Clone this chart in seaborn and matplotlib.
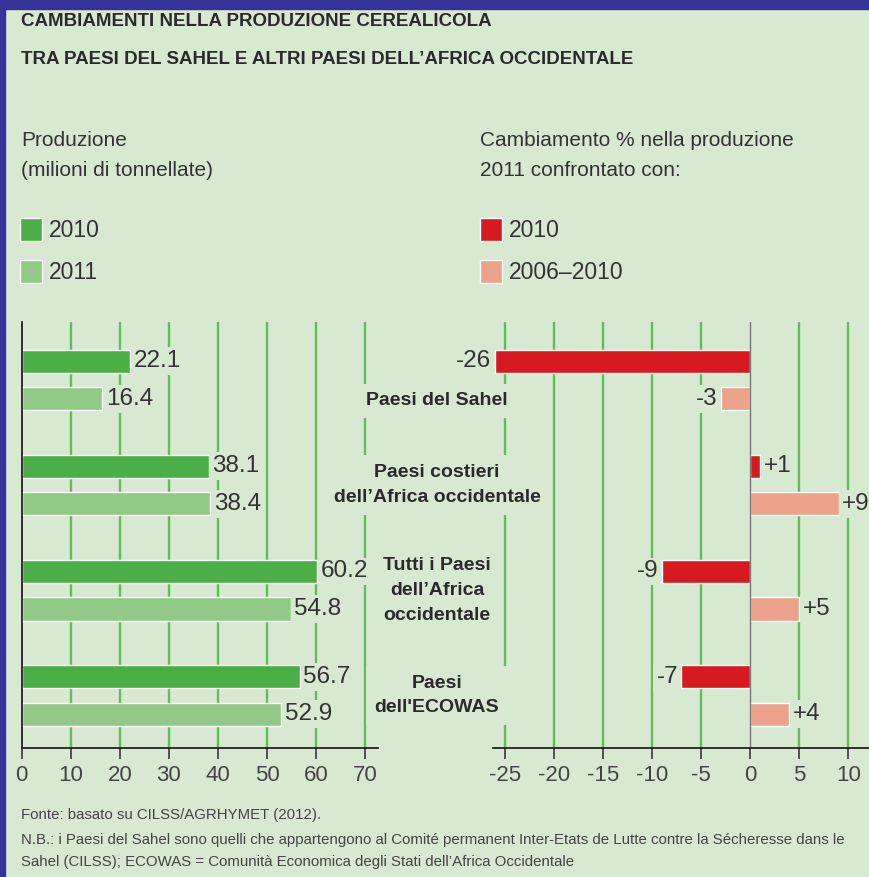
import matplotlib
matplotlib.use("Agg")
import matplotlib.pyplot as plt
import seaborn as sns
import pandas as pd
from matplotlib.patches import Rectangle
from matplotlib import transforms

# ---------------- data ----------------
category_keys = ["sahel", "costieri", "tutti", "ecowas"]
category_labels = ["Paesi del Sahel",
                   "Paesi costieri\ndell\u2019Africa occidentale",
                   "Tutti i Paesi\ndell\u2019Africa\noccidentale",
                   "Paesi\ndell'ECOWAS"]
production_series = ["2010", "2011"]
production_2010 = [22.1, 38.1, 60.2, 56.7]
production_2011 = [16.4, 38.4, 54.8, 52.9]
change_series = ["2010", "2006\u20132010"]
change_vs_2010 = [-26, 1, -9, -7]
change_vs_2006_2010 = [-3, 9, 5, 4]
production_ticks = [0, 10, 20, 30, 40, 50, 60, 70]
change_ticks = [-25, -20, -15, -10, -5, 0, 5, 10]

# ---------------- style ----------------
BG = "#d8e9d1"
BORDER = "#35339a"
DARK_GREEN = "#4cae46"
LIGHT_GREEN = "#93c987"
RED = "#d71a21"
SALMON = "#eca28b"
GRID = "#63bc5b"
TEXT = "#333333"

sns.set_theme(style="white")
plt.rcParams["font.family"] = ["Liberation Sans", "DejaVu Sans"]
plt.rcParams["axes.unicode_minus"] = False

W, H = 869, 877
fig = plt.figure(figsize=(W / 100, H / 100), dpi=100, facecolor=BG)

def fx(px):
    return px / W

def fy(px):
    return 1 - px / H

ax1 = fig.add_axes([fx(21.7), fy(748), fx(378 - 21.7), 426 / H])
ax2 = fig.add_axes([fx(493), fy(748), fx(869 - 493), 426 / H])

df_prod = pd.DataFrame({
    "cat": category_keys * 2,
    "value": production_2010 + production_2011,
    "series": [production_series[0]] * 4 + [production_series[1]] * 4,
})
df_change = pd.DataFrame({
    "cat": category_keys * 2,
    "value": change_vs_2010 + change_vs_2006_2010,
    "series": [change_series[0]] * 4 + [change_series[1]] * 4,
})

sns.barplot(data=df_prod, x="value", y="cat", hue="series", orient="h",
            palette=[DARK_GREEN, LIGHT_GREEN], saturation=1, errorbar=None,
            width=0.714, gap=0.387, ax=ax1)
sns.barplot(data=df_change, x="value", y="cat", hue="series", orient="h",
            palette=[RED, SALMON], saturation=1, errorbar=None,
            width=0.714, gap=0.387, ax=ax2)

h1, l1 = ax1.get_legend_handles_labels()
h2, l2 = ax2.get_legend_handles_labels()
ax1.get_legend().remove()
ax2.get_legend().remove()

for ax, ticks, xlim in [(ax1, production_ticks, (0, 72.6)),
                        (ax2, change_ticks, (-26.2, 12.1))]:
    ax.set_facecolor(BG)
    ax.set_xlim(*xlim)
    ax.set_ylim(3.5, -0.55)
    ax.set_xticks(ticks)
    ax.set_xlabel("")
    ax.set_ylabel("")
    ax.set_axisbelow(True)
    ax.grid(axis="x", color=GRID, linewidth=1.7)
    ax.grid(axis="y", visible=False)
    for t, gl in zip(ticks, ax.get_xgridlines()):
        if t == 0:
            gl.set_visible(False)
    ax.tick_params(axis="y", left=False, labelleft=False)
    ax.tick_params(axis="x", bottom=True, direction="out", length=8, width=1.3,
                   color="#444444", labelsize=16, labelcolor="#444444", pad=4)
    for s in ["top", "right", "left"]:
        ax.spines[s].set_visible(False)
    ax.spines["bottom"].set_color("#222222")
    ax.spines["bottom"].set_linewidth(1.3)

ax1.spines["left"].set_visible(True)
ax1.spines["left"].set_color("#222222")
ax1.spines["left"].set_linewidth(1.3)
ax2.axvline(0, color="#777777", linewidth=1.0, zorder=2.5)

label_box = dict(boxstyle="square,pad=0.12", fc=BG, ec="none")
for cont in ax1.containers:
    vals = cont.datavalues
    ax1.bar_label(cont, labels=[f"{v:.1f}" for v in vals], padding=2.5,
                  fontsize=17.5, color=TEXT, bbox=label_box)
for cont in ax2.containers:
    vals = cont.datavalues
    ax2.bar_label(cont, labels=[f"{int(v):+d}" for v in vals], padding=2.5,
                  fontsize=17.5, color=TEXT, bbox=label_box)

# category labels in the gap between the panels
blend = transforms.blended_transform_factory(fig.transFigure, ax2.transData)
label_offsets = [0.2, 0.0, 0.0, 0.0]
for i, (lab, off) in enumerate(zip(category_labels, label_offsets)):
    fig.text(fx(437), i + off, lab, transform=blend, ha="center", va="center",
             fontsize=14, fontweight="bold", color="#2a2a2a", linespacing=1.6,
             bbox=dict(boxstyle="square,pad=0.45", fc=BG, ec="none"))

# titles
fig.text(fx(21), fy(22), "CAMBIAMENTI NELLA PRODUZIONE CEREALICOLA",
         ha="left", va="center", fontsize=13.5, fontweight="bold",
         color="#2a2a2a")
fig.text(fx(21), fy(60), "TRA PAESI DEL SAHEL E ALTRI PAESI DELL\u2019AFRICA OCCIDENTALE",
         ha="left", va="center", fontsize=13.5, fontweight="bold",
         color="#2a2a2a")

# legend headers
fig.text(fx(21), fy(140), "Produzione", ha="left", va="center", fontsize=15, color=TEXT)
fig.text(fx(21), fy(170), "(milioni di tonnellate)", ha="left", va="center", fontsize=15, color=TEXT)
fig.text(fx(480), fy(140), "Cambiamento % nella produzione", ha="left", va="center", fontsize=15, color=TEXT)
fig.text(fx(480), fy(170), "2011 confrontato con:", ha="left", va="center", fontsize=15, color=TEXT)

leg_kw = dict(loc="upper left", frameon=False, fontsize=16.5, labelcolor=TEXT,
              handlelength=0.95, handleheight=1.2, handletextpad=0.3,
              labelspacing=0.75, borderpad=0, borderaxespad=0)
fig.legend(h1, l1, bbox_to_anchor=(fx(20), fy(218)), **leg_kw)
fig.legend(h2, l2, bbox_to_anchor=(fx(480), fy(218)), **leg_kw)

# footnotes
notes = ["Fonte: basato su CILSS/AGRHYMET (2012).",
         "N.B.: i Paesi del Sahel sono quelli che appartengono al Comit\u00e9 permanent Inter-Etats de Lutte contre la S\u00e9cheresse dans le",
         "Sahel (CILSS); ECOWAS = Comunit\u00e0 Economica degli Stati dell\u2019Africa Occidentale"]
for ypx, note in zip([815, 840, 862], notes):
    fig.text(fx(21), fy(ypx), note, ha="left", va="center", fontsize=10.8,
             color="#444444")

# frame
fig.patches.append(Rectangle((0, fy(9)), 1, 9 / H, transform=fig.transFigure,
                             color=BORDER, zorder=10))
fig.patches.append(Rectangle((0, 0), fx(5), 1, transform=fig.transFigure,
                             color=BORDER, zorder=10))

fig.savefig("out.png", dpi=100, facecolor=BG)
